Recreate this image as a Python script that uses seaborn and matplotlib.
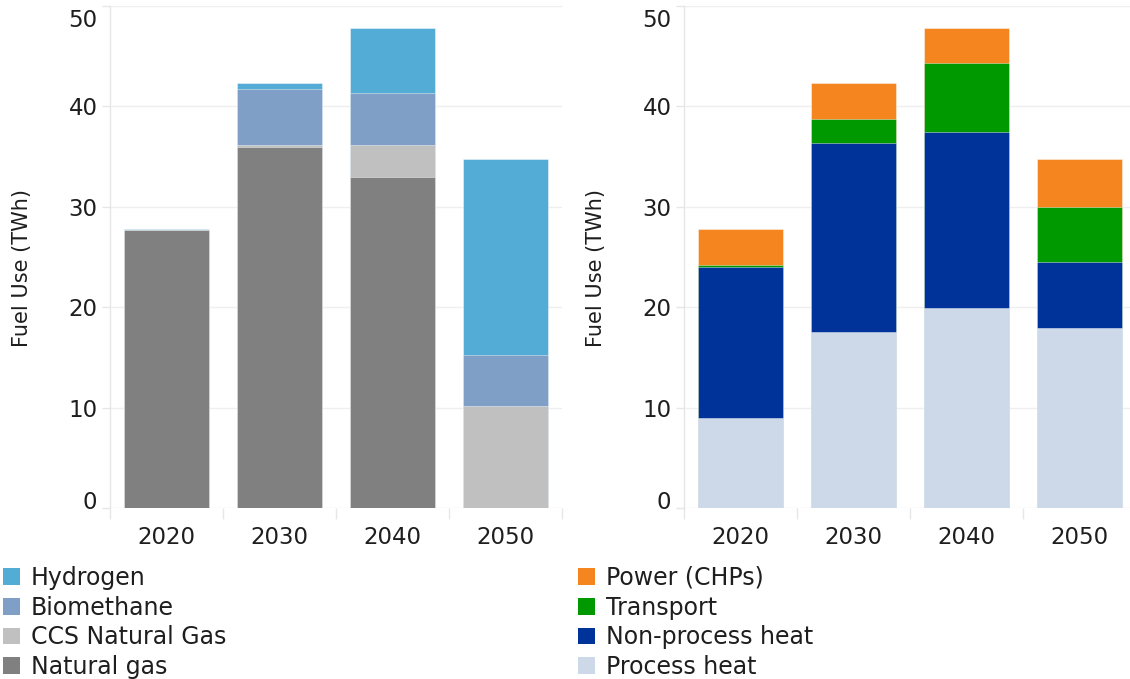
import numpy as np
import pandas as pd
import seaborn as sns
import matplotlib.pyplot as plt
from matplotlib.patches import Patch
from matplotlib.transforms import ScaledTranslation

# ---------------- data ----------------
years = ['2020', '2030', '2040', '2050']

# left panel: fuel source (TWh), bottom -> top
natural_gas = [27.7, 35.9, 33.0, 0.0]
ccs_natural_gas = [0.0, 0.25, 3.15, 10.2]
biomethane = [0.0, 5.6, 5.2, 5.05]
hydrogen = [0.1, 0.55, 6.45, 19.45]

# right panel: end use (TWh), bottom -> top
process_heat = [8.95, 17.5, 19.9, 17.9]
non_process_heat = [15.1, 18.8, 17.55, 6.6]
transport = [0.15, 2.45, 6.8, 5.5]
power_chps = [3.6, 3.55, 3.55, 4.7]

left_series = [('Natural gas', natural_gas, '#808080'),
               ('CCS Natural Gas', ccs_natural_gas, '#C0C0C0'),
               ('Biomethane', biomethane, '#7F9FC6'),
               ('Hydrogen', hydrogen, '#52ACD6')]
right_series = [('Process heat', process_heat, '#CDD9E8'),
                ('Non-process heat', non_process_heat, '#003399'),
                ('Transport', transport, '#009900'),
                ('Power (CHPs)', power_chps, '#F5861F')]

y_ticks = [0, 10, 20, 30, 40, 50]

# ---------------- style ----------------
sns.set_theme(style='white')
plt.rcParams['font.family'] = ['DejaVu Sans']
TXT = '#1E1E1E'
LIGHT = '#E6E6E6'

fig = plt.figure(figsize=(11.3, 6.79), dpi=100)
W, H = 1130, 679


def px_axes(x0, x1, ytop, ybot):
    return fig.add_axes([x0 / W, 1 - ybot / H, (x1 - x0) / W, (ybot - ytop) / H])


ax_l = px_axes(110, 562.4, 5.7, 508.3)
ax_r = px_axes(684, 1136.4, 5.7, 508.3)


def draw(ax, series):
    df = pd.DataFrame({name: vals for name, vals, _ in series}, index=years)
    cum = df.cumsum(axis=1)
    for name, _, col in reversed(series):
        sns.barplot(x=years, y=cum[name].values, color=col, width=0.75,
                    saturation=1, edgecolor=(1, 1, 1, 0.6), linewidth=0.5, ax=ax)
    ax.set_xlim(-0.5, 3.5)
    ax.set_ylim(0, 50)
    ax.set_axisbelow(True)
    ax.yaxis.grid(True, color='#EFEFEF', linewidth=1)
    ax.xaxis.grid(False)
    ax.set_yticks(y_ticks)
    ax.set_yticklabels([str(t) for t in y_ticks])
    ax.tick_params(axis='y', length=6, width=1, color=LIGHT, pad=3,
                   labelsize=16.5, labelcolor=TXT, left=True)
    ax.set_xticks(range(len(years)))
    ax.set_xticklabels(years)
    ax.tick_params(axis='x', which='major', length=0, pad=13,
                   labelsize=16.5, labelcolor=TXT)
    ax.set_xticks([-0.5, 0.5, 1.5, 2.5, 3.5], minor=True)
    ax.tick_params(axis='x', which='minor', length=8, width=1, color=LIGHT,
                   bottom=True)
    for s in ['top', 'right', 'bottom']:
        ax.spines[s].set_visible(False)
    ax.spines['left'].set_color(LIGHT)
    ax.spines['left'].set_linewidth(1)
    ax.set_xlabel('')
    ax.set_ylabel('Fuel Use (TWh)', fontsize=15, color=TXT)
    ax.yaxis.set_label_coords(-0.172, 0.478)
    # shift end labels inward like the reference
    labels = ax.get_yticklabels()
    labels[0].set_transform(labels[0].get_transform() +
                            ScaledTranslation(0, 8 / 100, fig.dpi_scale_trans))
    labels[-1].set_transform(labels[-1].get_transform() +
                             ScaledTranslation(0, -12 / 100, fig.dpi_scale_trans))


draw(ax_l, left_series)
draw(ax_r, right_series)


def legend(series, x_px):
    handles = [Patch(facecolor=c, edgecolor='none', label=n)
               for n, _, c in reversed(series)]
    fig.legend(handles=handles, loc='upper left',
               bbox_to_anchor=(x_px / W, 1 - 566 / H), frameon=False,
               fontsize=17, handlelength=0.72, handleheight=0.72,
               handletextpad=0.45, labelspacing=0.24, borderpad=0,
               borderaxespad=0, labelcolor=TXT)


legend(left_series, 3)
legend(right_series, 578)

fig.savefig('out.png', dpi=100)
